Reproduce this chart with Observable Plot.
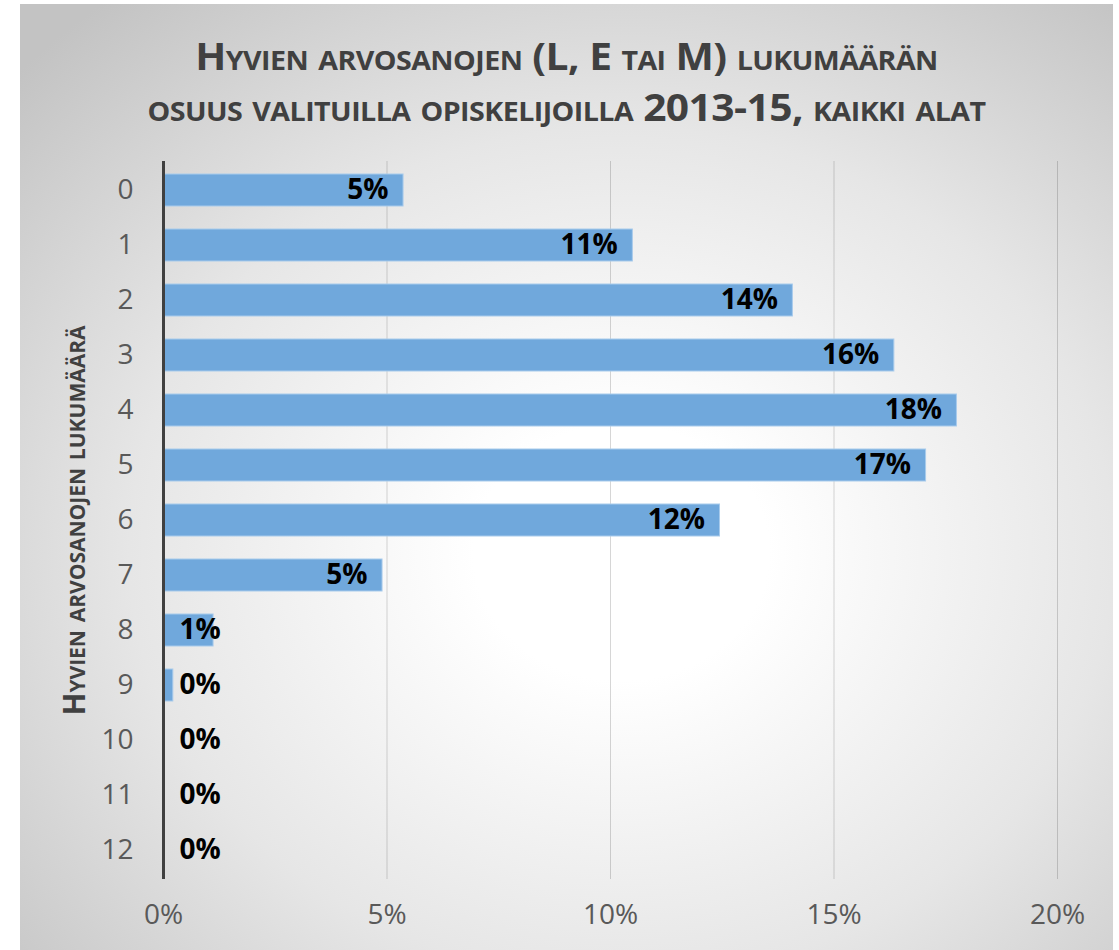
<!DOCTYPE html>
<html>
<head>
<meta charset="utf-8">
<script src="https://cdn.jsdelivr.net/npm/d3@7"></script>
<script src="https://cdn.jsdelivr.net/npm/@observablehq/plot@0.6"></script>
<style>
  html, body { margin: 0; padding: 0; background: #ffffff; }
  #wrap { position: relative; width: 1119px; height: 950px; background: #ffffff; overflow: hidden; }
  #panel {
    position: absolute; left: 20px; top: 4px; width: 1093px; height: 946px;
    background: radial-gradient(ellipse 75% 75% at 55% 58%, #ffffff 0%, #ffffff 18%, #e6e6e6 60%, #c3c3c3 100%);
  }
  .tline {
    position: absolute; left: 20px; width: 1093px; height: 50px;
    text-align: center; font-family: "Open Sans", sans-serif; font-weight: 700;
    font-variant: small-caps; color: #404040; font-size: 37px; line-height: 50px;
    letter-spacing: -0.5px; white-space: nowrap; transform: scaleX(1.1); transform-origin: 50% 50%;
  }
  #t1 { top: 31px; }
  #t2 { top: 82px; }
  #chart { position: absolute; left: 0; top: 140px; }
</style>
</head>
<body>
<div id="wrap">
  <div id="panel"></div>
  <div id="t1" class="tline">Hyvien arvosanojen (L, E tai M) lukumäärän</div>
  <div id="t2" class="tline">osuus valituilla opiskelijoilla 2013-15, kaikki alat</div>
  <div id="chart"></div>
</div>
<script>
const counts = ["0","1","2","3","4","5","6","7","8","9","10","11","12"];
const shares = [0.0537, 0.105, 0.1408, 0.1635, 0.1775, 0.1706, 0.1245, 0.0490, 0.0112, 0.0022, 0.0001, 0.0001, 0.0001];
const labels = ["5%","11%","14%","16%","18%","17%","12%","5%","1%","0%","0%","0%","0%"];
const xTicks = [0, 0.05, 0.10, 0.15, 0.20];
const yTitle = "Hyvien arvosanojen lukumäärä";

const rows = counts.map((c, i) => ({count: c, share: shares[i], label: labels[i]}));
const longRows = rows.filter(d => d.share >= 0.02);
const shortRows = rows.filter(d => d.share < 0.02);

const chart = Plot.plot({
  width: 1119,
  height: 810,
  marginTop: 21,
  marginBottom: 71,
  marginLeft: 163,
  marginRight: 62,
  style: {fontFamily: "'Open Sans', sans-serif", fontSize: "28px", color: "#595959", background: "transparent", overflow: "visible"},
  x: {domain: [0, 0.2]},
  y: {domain: counts, paddingInner: 0.42, paddingOuter: 0.21},
  marks: [
    Plot.ruleX(xTicks.slice(1), {stroke: "#000", strokeOpacity: 0.16, strokeWidth: 1}),
    Plot.barX(rows, {x: "share", y: "count", fill: "#70a8dc", stroke: "#a8cbec", strokeWidth: 1}),
    Plot.ruleX([0], {stroke: "#404040", strokeWidth: 3}),
    Plot.text(longRows, {x: "share", y: "count", text: "label", textAnchor: "end", dx: -15, fill: "#000", fontWeight: 700, fontSize: 28}),
    Plot.text(shortRows, {x: 0, y: "count", text: "label", textAnchor: "start", dx: 16, fill: "#000", fontWeight: 700, fontSize: 28}),
    Plot.axisX({ticks: xTicks, tickFormat: d3.format(".0%"), tickSize: 0, tickPadding: 25, label: null, fill: "#595959"}),
    Plot.axisY({tickSize: 0, tickPadding: 30, label: null, fill: "#595959"}),
    Plot.text([yTitle], {frameAnchor: "left", rotate: -90, dx: -88, fill: "#404040", fontWeight: 700, fontSize: 30, fontVariant: "small-caps", textAnchor: "middle", lineAnchor: "middle"})
  ]
});
document.getElementById("chart").appendChild(chart);
</script>
</body>
</html>
